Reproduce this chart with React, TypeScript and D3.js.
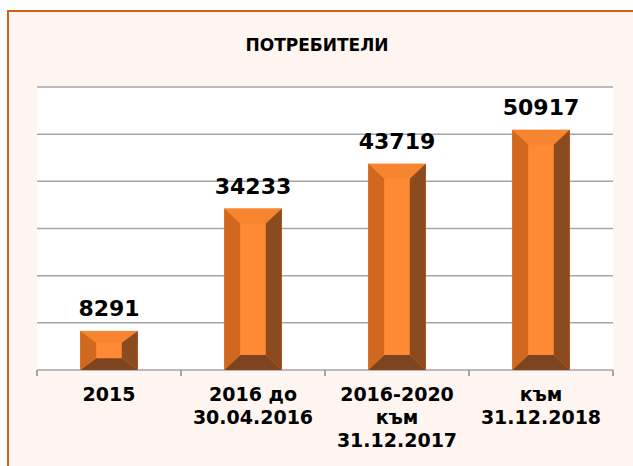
import * as d3 from "d3";

const W = 633;
const H = 466;
const PLOT = { left: 37, right: 613, top: 87, bottom: 370 };

const title = "ПОТРЕБИТЕЛИ";
const categories = ["2015", "2016 до 30.04.2016", "2016-2020 към 31.12.2017", "към 31.12.2018"];
const categoryLines = [["2015"], ["2016 до", "30.04.2016"], ["2016-2020", "към", "31.12.2017"], ["към", "31.12.2018"]];
const values = [8291, 34233, 43719, 50917];
const yMax = 60000;
const yTickStep = 10000;

const FONT = "'DejaVu Sans', Verdana, sans-serif";

const App = () => {
  const x = d3
    .scaleBand<string>()
    .domain(categories)
    .range([PLOT.left, PLOT.right])
    .paddingInner(0.6)
    .paddingOuter(0.3);
  const y = d3.scaleLinear().domain([0, yMax]).range([PLOT.bottom, PLOT.top]);
  const gridTicks = d3.range(0, yMax + 1, yTickStep);
  const step = x.step();

  // bevelled bars, like the office "bevel" shape
  const bars = values.map((v, i) => {
    const x0 = x(categories[i])!;
    const x1 = x0 + x.bandwidth();
    const y0 = y(v);
    const y1 = y(0);
    const w = x1 - x0;
    const h = y1 - y0;
    const bx = Math.min(16, w * 0.28);
    const by = Math.min(15, h * 0.3);
    const pts = (p: number[][]) => p.map((q) => q.join(",")).join(" ");
    return (
      <g key={i}>
        <rect x={x0} y={y0} width={w} height={h} fill="#FF8A35" />
        <polygon points={pts([[x0, y0], [x1, y0], [x1 - bx, y0 + by], [x0 + bx, y0 + by]])} fill="#F7852F" />
        <polygon points={pts([[x0, y1], [x1, y1], [x1 - bx, y1 - by], [x0 + bx, y1 - by]])} fill="#7E4420" />
        <polygon points={pts([[x0, y0], [x0 + bx, y0 + by], [x0 + bx, y1 - by], [x0, y1]])} fill="#D0691F" />
        <polygon points={pts([[x1, y0], [x1 - bx, y0 + by], [x1 - bx, y1 - by], [x1, y1]])} fill="#8C4B1E" />
        <text
          x={x0 + w / 2}
          y={y0 - 15}
          textAnchor="middle"
          fontFamily={FONT}
          fontWeight="bold"
          fontSize={22}
          fill="#000"
        >
          {v}
        </text>
      </g>
    );
  });

  return (
    <svg
      width={W}
      height={H}
      style={{ position: "absolute", left: 0, top: 0, display: "block" }}
    >
      <rect x={0} y={0} width={W} height={H} fill="#fff" />
      <rect x={8} y={11} width={W + 20} height={H + 20} fill="#FEF5F0" stroke="#D2601A" strokeWidth={2} />
      <text
        x={317}
        y={51}
        textAnchor="middle"
        fontFamily={FONT}
        fontWeight="bold"
        fontSize={17}
        fill="#000"
      >
        {title}
      </text>
      <rect
        x={PLOT.left}
        y={PLOT.top}
        width={PLOT.right - PLOT.left}
        height={PLOT.bottom - PLOT.top}
        fill="#fff"
      />
      {gridTicks.map((t) => (
        <line key={t} x1={PLOT.left} x2={PLOT.right} y1={y(t)} y2={y(t)} stroke="#A6A6A6" strokeWidth={1.5} />
      ))}
      {d3.range(categories.length + 1).map((i) => (
        <line
          key={i}
          x1={PLOT.left + i * step}
          x2={PLOT.left + i * step}
          y1={PLOT.bottom}
          y2={PLOT.bottom + 6}
          stroke="#8C8C8C"
          strokeWidth={1.5}
        />
      ))}
      {bars}
      {categoryLines.map((lines, i) => (
        <text
          key={i}
          textAnchor="middle"
          fontFamily={FONT}
          fontWeight="bold"
          fontSize={19}
          fill="#000"
        >
          {lines.map((l, j) => (
            <tspan key={j} x={x(categories[i])! + x.bandwidth() / 2} y={401 + j * 23}>
              {l}
            </tspan>
          ))}
        </text>
      ))}
    </svg>
  );
};

export default App;
